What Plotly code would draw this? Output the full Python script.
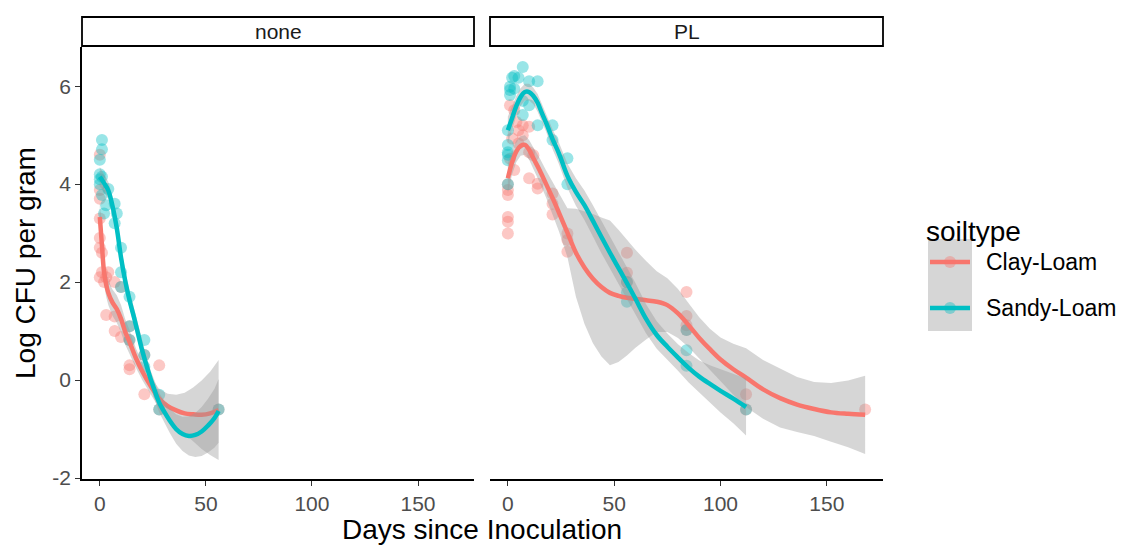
import plotly.graph_objects as go

# ---------------- data ----------------
facets = ["none", "PL"]
soiltypes = ["Clay-Loam", "Sandy-Loam"]
colors = {"Clay-Loam": "#F8766D", "Sandy-Loam": "#00BFC4"}
x_ticks = [0, 50, 100, 150]
y_ticks = [-2, 0, 2, 4, 6]
y_tick_text = ["-2", "0", "2", "4", "6"]

# observed points
none_clay_x = [0, 0, 0, 0, 0, 0, 1, 1, 4, 0, 3, 2, 7, 10, 3, 7, 14, 7, 10, 14, 21, 14, 14, 28, 21, 28, 56]
none_clay_y = [4.6, 3.88, 3.7, 3.3, 2.9, 2.7, 2.6, 2.2, 2.2, 2.1, 2.1, 2.0, 2.0, 1.9, 1.33, 1.3, 1.1, 1.0, 0.88,
               0.82, 0.51, 0.3, 0.22, 0.3, -0.29, -0.6, -0.6]
none_sandy_x = [1, 1, 0, 0, 1, 0, 0, 4, 1, 7, 3, 8, 2, 7, 10, 10, 10, 14, 14, 14, 21, 21, 21, 28, 28, 56]
none_sandy_y = [4.9, 4.71, 4.5, 4.2, 4.15, 4.1, 4.0, 3.9, 3.78, 3.6, 3.57, 3.4, 3.4, 3.2, 2.7, 2.2, 1.9, 1.7,
                1.1, 0.82, 0.82, 0.51, 0.27, -0.3, -0.6, -0.6]
pl_clay_x = [1, 3, 4, 7, 10, 5, 7, 2, 5, 10, 12, 1, 3, 0, 10, 14, 14, 0, 0, 21, 21, 21, 0, 0, 0, 28, 28, 28,
             56, 56, 56, 84, 84, 84, 84, 112, 112, 168]
pl_clay_y = [5.61, 5.51, 5.27, 5.2, 5.17, 5.1, 5.0, 4.93, 4.83, 4.65, 4.59, 4.52, 4.29, 4.0, 4.12, 4.01, 3.91,
             3.88, 3.78, 3.81, 3.6, 3.38, 3.33, 3.23, 2.99, 2.99, 2.86, 2.62, 2.6, 2.19, 2.0, 1.8, 1.31, 1.12,
             1.02, -0.29, -0.6, -0.6]
pl_sandy_x = [7, 3, 5, 2, 10, 14, 1, 3, 1, 1, 10, 7, 7, 14, 21, 0, 21, 0, 0, 0, 0, 28, 0, 28, 56, 56, 56, 84,
              84, 84, 112]
pl_sandy_y = [6.39, 6.21, 6.17, 6.17, 6.1, 6.1, 5.99, 5.95, 5.92, 5.82, 5.61, 5.7, 5.41, 5.2, 5.2, 5.1, 4.9,
              4.8, 4.65, 4.6, 4.49, 4.53, 4.0, 4.0, 2.0, 1.79, 1.6, 1.02, 0.61, 0.29, -0.6]

# loess smooth fits (fit and standard-error half width)
none_clay_sx = [0, 1, 2, 3, 4, 6, 8, 10, 12, 14, 17, 20, 24, 28, 32, 36, 40, 44, 48, 52, 56]
none_clay_sy = [3.33, 2.75, 2.2, 1.95, 1.78, 1.58, 1.45, 1.25, 0.98, 0.78, 0.45, 0.18, -0.12, -0.38, -0.53,
                -0.62, -0.68, -0.7, -0.71, -0.68, -0.61]
none_clay_se = [0.3, 0.27, 0.25, 0.25, 0.25, 0.27, 0.28, 0.28, 0.26, 0.24, 0.2, 0.18, 0.18, 0.2, 0.25, 0.32,
                0.42, 0.55, 0.7, 0.85, 1.02]
none_sandy_sx = [0, 2, 4, 6, 8, 10, 12, 14, 16, 18, 20, 22, 24, 26, 28, 30, 33, 36, 39, 42, 45, 48, 51, 54, 56]
none_sandy_sy = [4.15, 4.02, 3.87, 3.55, 3.1, 2.5, 2.02, 1.63, 1.3, 0.95, 0.6, 0.3, 0.02, -0.23, -0.46, -0.62,
                 -0.83, -1.0, -1.1, -1.14, -1.12, -1.05, -0.93, -0.78, -0.63]
none_sandy_se = [0.2, 0.18, 0.18, 0.18, 0.2, 0.22, 0.2, 0.2, 0.18, 0.17, 0.17, 0.17, 0.17, 0.18, 0.2, 0.22,
                 0.25, 0.3, 0.35, 0.4, 0.45, 0.5, 0.55, 0.6, 0.65]
pl_clay_sx = [0, 2, 4, 6, 8, 10, 12, 15, 18, 21, 24, 28, 32, 36, 40, 44, 48, 52, 56, 60, 65, 70, 75, 80, 85,
              90, 95, 100, 106, 112, 120, 128, 136, 144, 152, 160, 168]
pl_clay_sy = [4.12, 4.45, 4.67, 4.78, 4.8, 4.7, 4.53, 4.28, 4.0, 3.72, 3.42, 3.01, 2.6, 2.3, 2.07, 1.9, 1.78,
              1.72, 1.68, 1.66, 1.63, 1.6, 1.53, 1.36, 1.12, 0.86, 0.63, 0.42, 0.22, 0.05, -0.19, -0.37, -0.5,
              -0.59, -0.66, -0.69, -0.71]
pl_clay_se = [0.3, 0.25, 0.22, 0.2, 0.2, 0.2, 0.22, 0.25, 0.28, 0.32, 0.38, 0.5, 0.9, 1.15, 1.32, 1.42, 1.48,
              1.35, 1.18, 1.0, 0.8, 0.62, 0.55, 0.5, 0.45, 0.42, 0.42, 0.45, 0.52, 0.6, 0.6, 0.6, 0.56, 0.55,
              0.6, 0.68, 0.8]
pl_sandy_sx = [0, 2, 4, 6, 8, 10, 12, 14, 16, 18, 21, 24, 28, 32, 36, 40, 44, 48, 52, 56, 60, 65, 70, 75, 80,
               85, 90, 95, 100, 106, 112]
pl_sandy_sy = [5.1, 5.35, 5.6, 5.78, 5.88, 5.88, 5.8, 5.66, 5.45, 5.25, 4.92, 4.63, 4.17, 3.84, 3.57, 3.25,
               2.92, 2.6, 2.29, 1.98, 1.66, 1.25, 0.92, 0.68, 0.46, 0.25, 0.07, -0.08, -0.22, -0.38, -0.55]
pl_sandy_se = [0.28, 0.24, 0.2, 0.18, 0.17, 0.17, 0.17, 0.18, 0.18, 0.18, 0.2, 0.22, 0.25, 0.28, 0.3, 0.32,
               0.33, 0.33, 0.33, 0.33, 0.32, 0.3, 0.28, 0.27, 0.27, 0.3, 0.33, 0.38, 0.44, 0.5, 0.58]

points = {
    ("none", "Clay-Loam"): (none_clay_x, none_clay_y),
    ("none", "Sandy-Loam"): (none_sandy_x, none_sandy_y),
    ("PL", "Clay-Loam"): (pl_clay_x, pl_clay_y),
    ("PL", "Sandy-Loam"): (pl_sandy_x, pl_sandy_y),
}
smooths = {
    ("none", "Clay-Loam"): (none_clay_sx, none_clay_sy, none_clay_se),
    ("none", "Sandy-Loam"): (none_sandy_sx, none_sandy_sy, none_sandy_se),
    ("PL", "Clay-Loam"): (pl_clay_sx, pl_clay_sy, pl_clay_se),
    ("PL", "Sandy-Loam"): (pl_sandy_sx, pl_sandy_sy, pl_sandy_se),
}

# ---------------- layout geometry (reference-window pixels) ----------------
OFF = 8                      # page body margin of the browser
WIN_W, WIN_H = 1126, 555
W, H = WIN_W - 2 * OFF, WIN_H - 2 * OFF
L, R, T, B = 82, 883, 47, 479   # plot area in window pixels
panel_px = {"none": (82, 474), "PL": (490, 883)}
FONT = "Liberation Sans, Arial, sans-serif"


def px_x(px):
    return (px - L) / (R - L)


def px_y(py):
    return (B - py) / (B - T)


def rgba(hexc, a):
    h = hexc.lstrip("#")
    return "rgba(%d,%d,%d,%s)" % (int(h[0:2], 16), int(h[2:4], 16), int(h[4:6], 16), a)


BAND = "rgba(153,153,153,0.4)"
axis_ids = {"none": ("x", "y"), "PL": ("x2", "y2")}

fig = go.Figure()

for f in facets:
    xa, ya = axis_ids[f]
    for s in soiltypes:
        px_, py_ = points[(f, s)]
        fig.add_trace(go.Scatter(x=px_, y=py_, mode="markers", xaxis=xa, yaxis=ya,
                                 marker=dict(size=12, color=rgba(colors[s], 0.4), line=dict(width=0)),
                                 showlegend=False, hoverinfo="skip"))
    for s in soiltypes:
        sx, sy, se = smooths[(f, s)]
        upper = [a + b for a, b in zip(sy, se)]
        lower = [a - b for a, b in zip(sy, se)]
        fig.add_trace(go.Scatter(x=sx + sx[::-1], y=upper + lower[::-1], mode="lines", fill="toself",
                                 fillcolor=BAND, line=dict(width=0), xaxis=xa, yaxis=ya,
                                 showlegend=False, hoverinfo="skip"))
        fig.add_trace(go.Scatter(x=sx, y=sy, mode="lines", line=dict(color=colors[s], width=4.5, shape="spline"),
                                 xaxis=xa, yaxis=ya, showlegend=False, hoverinfo="skip"))

xr = [-8.4, 176.4]
yr = [-2.02, 6.8]
tickfont = dict(family=FONT, size=21, color="#4d4d4d")
common_x = dict(range=xr, tickvals=x_ticks, showline=True, linecolor="black", linewidth=1.6,
                ticks="outside", ticklen=5, tickwidth=1.2, tickcolor="#333333", tickfont=tickfont,
                showgrid=False, zeroline=False, mirror=False)
fig.update_layout(
    width=W, height=H, plot_bgcolor="white", paper_bgcolor="white",
    margin=dict(l=L - OFF, r=WIN_W - OFF - R, t=T - OFF, b=WIN_H - OFF - B, autoexpand=False),
    xaxis=dict(domain=[px_x(panel_px["none"][0]), px_x(panel_px["none"][1])], anchor="y", **common_x),
    xaxis2=dict(domain=[px_x(panel_px["PL"][0]), px_x(panel_px["PL"][1])], anchor="y2", **common_x),
    yaxis=dict(range=yr, tickvals=y_ticks, ticktext=y_tick_text, showline=True, linecolor="black",
               linewidth=1.6, ticks="outside", ticklen=5, tickwidth=1.2, tickcolor="#333333",
               tickfont=tickfont, showgrid=False, zeroline=False, anchor="x"),
    yaxis2=dict(range=yr, tickvals=y_ticks, showticklabels=False, showline=False, ticks="",
                showgrid=False, zeroline=False, anchor="x2", matches="y"),
    showlegend=False,
    font=dict(family=FONT),
)

shapes = []
annotations = []
# facet strips
for f in facets:
    x0, x1 = panel_px[f]
    shapes.append(dict(type="rect", xref="paper", yref="paper", x0=px_x(x0), x1=px_x(x1),
                       y0=px_y(46), y1=px_y(17), line=dict(color="black", width=1.8), fillcolor="white"))
    annotations.append(dict(text=f, xref="paper", yref="paper", x=(px_x(x0) + px_x(x1)) / 2, y=px_y(31.5),
                            showarrow=False, xanchor="center", yanchor="middle",
                            font=dict(family=FONT, size=21, color="#1a1a1a")))

# axis titles
annotations.append(dict(text="Days since Inoculation", xref="paper", yref="paper", x=px_x(482), y=px_y(529),
                        showarrow=False, xanchor="center", yanchor="middle",
                        font=dict(family=FONT, size=28, color="black")))
annotations.append(dict(text="Log CFU per gram", xref="paper", yref="paper", x=px_x(25), y=px_y(263),
                        showarrow=False, xanchor="center", yanchor="middle", textangle=-90,
                        font=dict(family=FONT, size=28, color="black")))

# legend (drawn manually in ggplot style)
annotations.append(dict(text="soiltype", xref="paper", yref="paper", x=px_x(924), y=px_y(231),
                        showarrow=False, xanchor="left", yanchor="middle",
                        font=dict(family=FONT, size=28, color="black")))
key_centers = {"Clay-Loam": 262, "Sandy-Loam": 308}
for s in soiltypes:
    cy = key_centers[s]
    shapes.append(dict(type="rect", xref="paper", yref="paper", x0=px_x(928), x1=px_x(972),
                       y0=px_y(cy + 23), y1=px_y(cy - 23), line=dict(width=0), fillcolor=BAND))
    shapes.append(dict(type="line", xref="paper", yref="paper", x0=px_x(930), x1=px_x(970),
                       y0=px_y(cy), y1=px_y(cy), line=dict(color=colors[s], width=4.5)))
    shapes.append(dict(type="circle", xref="paper", yref="paper", x0=px_x(944), x1=px_x(956),
                       y0=px_y(cy + 6), y1=px_y(cy - 6), line=dict(width=0),
                       fillcolor=rgba(colors[s], 0.4)))
    annotations.append(dict(text=s, xref="paper", yref="paper", x=px_x(984), y=px_y(cy),
                            showarrow=False, xanchor="left", yanchor="middle",
                            font=dict(family=FONT, size=23, color="black")))

fig.update_layout(shapes=shapes, annotations=annotations)
fig.write_html("out.html")
